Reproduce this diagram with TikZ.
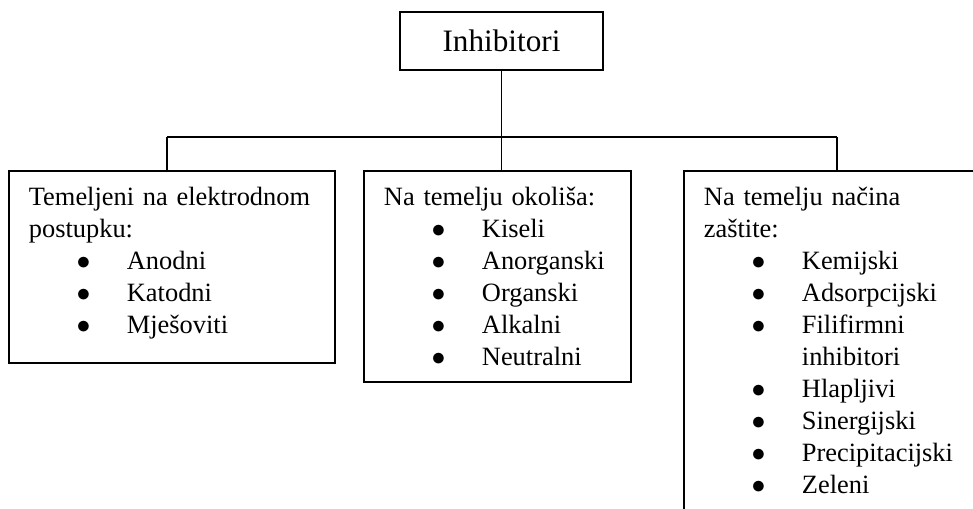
\documentclass[tikz,border=0pt]{standalone}
\usepackage{fontspec}
\setmainfont{Liberation Serif}
\newcommand{\stavka}[1]{\hspace*{41pt}\makebox[0pt]{$\bullet$}\hspace*{32.5pt}#1}
\newcommand{\nastavak}[1]{\hspace*{73.5pt}#1}
\begin{document}
\begin{tikzpicture}[x=0.75pt, y=-0.75pt, line width=1.4pt,
        every node/.style={draw, line width=1.4pt},
        okvir/.style={anchor=north west, align=left, inner xsep=15pt, inner ysep=0pt,
            text height=26.25pt, font=\fontsize{19.8}{24}\selectfont}]
        \useasboundingbox (0,0) rectangle (973,508);
        \clip (0,0) rectangle (973,508);
        % Nodes
        \node[minimum width=152.25pt, minimum height=43.5pt, inner sep=0pt,
            font=\fontsize{23.4}{28}\selectfont] (inh) at (501.5,41) {Inhibitori};
        \node[okvir, text width=214.5pt, text depth=117.75pt] (lijevi) at (8,170)
            {Temeljeni na elektrodnom\\postupku:\\
             \stavka{Anodni}\\\stavka{Katodni}\\\stavka{Mješoviti}};
        \node[okvir, text width=170.25pt, text depth=132pt] (srednji) at (363,170)
            {Na temelju okoliša:\\
             \stavka{Kiseli}\\\stavka{Anorganski}\\\stavka{Organski}\\
             \stavka{Alkalni}\\\stavka{Neutralni}};
        \node[okvir, text width=214.5pt, text depth=450pt] (desni) at (683,170)
            {Na temelju načina\\zaštite:\\
             \stavka{Kemijski}\\\stavka{Adsorpcijski}\\\stavka{Filifirmni}\\
             \nastavak{inhibitori}\\\stavka{Hlapljivi}\\\stavka{Sinergijski}\\
             \stavka{Precipitacijski}\\\stavka{Zeleni}};
        \coordinate (gl) at (167,137);
        \coordinate (gd) at (837,137);

        % Edges
        \draw (inh.south) -- (inh.south |- srednji.north);
        \draw (gl) -- (gd);
        \draw (gl) -- (gl |- lijevi.north);
        \draw (gd) -- (gd |- desni.north);
\end{tikzpicture}
\end{document}
